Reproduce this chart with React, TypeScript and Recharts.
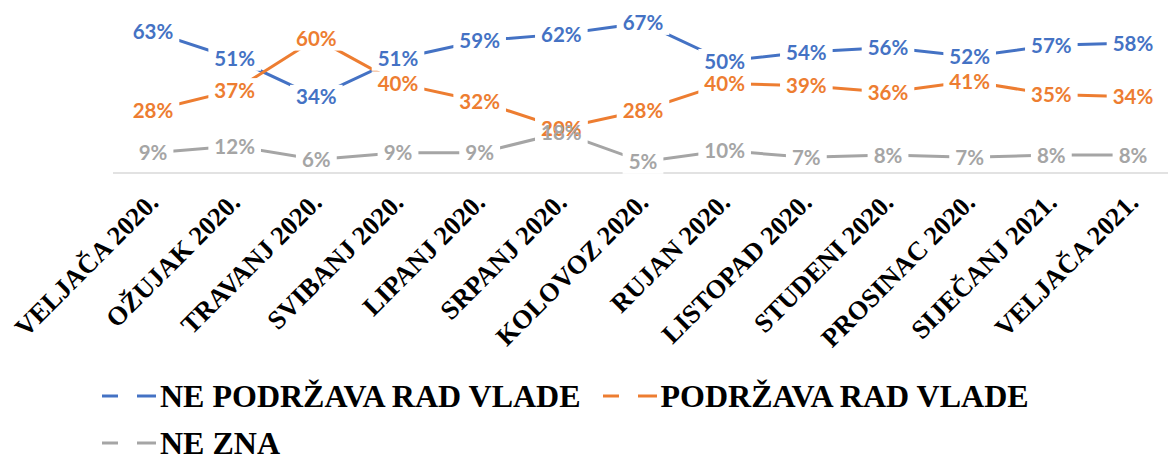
import React from 'react';
import { LineChart, Line, XAxis, YAxis, LabelList, Legend } from 'recharts';

const categories = [
  'VELJAČA 2020.', 'OŽUJAK 2020.', 'TRAVANJ 2020.', 'SVIBANJ 2020.', 'LIPANJ 2020.',
  'SRPANJ 2020.', 'KOLOVOZ 2020.', 'RUJAN 2020.', 'LISTOPAD 2020.', 'STUDENI 2020.',
  'PROSINAC 2020.', 'SIJEČANJ 2021.', 'VELJAČA 2021.',
];
const nePodrzava = [63, 51, 34, 51, 59, 62, 67, 50, 54, 56, 52, 57, 58];
const podrzava = [28, 37, 60, 40, 32, 20, 28, 40, 39, 36, 41, 35, 34];
const neZna = [9, 12, 6, 9, 9, 18, 5, 10, 7, 8, 7, 8, 8];
const seriesNames = ['NE PODRŽAVA RAD VLADE', 'PODRŽAVA RAD VLADE', 'NE ZNA'];
const seriesKeys = ['nePodrzava', 'podrzava', 'neZna'];
const colors = ['#4472C4', '#ED7D31', '#A5A5A5'];

const data = categories.map((c, i) => ({
  name: c,
  nePodrzava: nePodrzava[i],
  podrzava: podrzava[i],
  neZna: neZna[i],
}));

const labelFont = { fontFamily: 'Lato, Carlito, Calibri, sans-serif', fontWeight: 700, fontSize: 20.5 };
const serifFont = "'Liberation Serif', 'Times New Roman', serif";

const textWidth = (t: string) => {
  let w = 0;
  for (const ch of t) w += ch === '%' ? 17 : 11.8;
  return w;
};

const getXY = (p: any) => {
  const x = p.x ?? p.viewBox?.x;
  const y = p.y ?? p.viewBox?.y;
  return { x, y };
};

const RectLabel = (p: any) => {
  const { x, y } = getXY(p);
  if (x == null || y == null) return null;
  const t = `${p.value}%`;
  const w = textWidth(t) + 12;
  return <rect x={x - w / 2} y={y - 12} width={w} height={24} fill="#ffffff" />;
};

const makeTextLabel = (color: string) => (p: any) => {
  const { x, y } = getXY(p);
  if (x == null || y == null) return null;
  return (
    <text x={x} y={y} dy={7.5} textAnchor="middle" fill={color} style={labelFont}>
      {`${p.value}%`}
    </text>
  );
};

const Tick = (p: any) => {
  const { x, y, payload } = p;
  const ax = x + 7;
  const ay = y + 31;
  return (
    <text
      x={ax}
      y={ay}
      transform={`rotate(-45 ${ax} ${ay})`}
      textAnchor="end"
      fill="#000000"
      style={{ fontFamily: serifFont, fontWeight: 700, fontSize: 26.5 }}
    >
      {payload.value}
    </text>
  );
};

const Key = ({ color }: { color: string }) => (
  <svg width={58} height={6} style={{ display: 'block', flex: 'none' }}>
    <line x1={0} y1={3} x2={16} y2={3} stroke={color} strokeWidth={3} />
    <line x1={35} y1={3} x2={54} y2={3} stroke={color} strokeWidth={3} />
  </svg>
);

const LegendContent = () => {
  const rowStyle = (h: number): React.CSSProperties => ({
    display: 'flex',
    alignItems: 'center',
    height: h,
    paddingLeft: 102,
  });
  const textStyle = (h: number): React.CSSProperties => ({
    fontFamily: serifFont,
    fontWeight: 700,
    fontSize: 32,
    lineHeight: `${h}px`,
    color: '#000',
    whiteSpace: 'nowrap',
  });
  return (
    <div style={{ width: 1168, height: 86 }}>
      <div style={rowStyle(50)}>
        <Key color={colors[0]} />
        <span style={textStyle(50)}>{seriesNames[0]}</span>
        <div style={{ width: 22 }} />
        <Key color={colors[1]} />
        <span style={textStyle(50)}>{seriesNames[1]}</span>
      </div>
      <div style={{ height: 8 }} />
      <div style={rowStyle(28)}>
        <Key color={colors[2]} />
        <span style={textStyle(28)}>{seriesNames[2]}</span>
      </div>
    </div>
  );
};

export default function App() {
  return (
    <div style={{ position: 'absolute', left: 0, top: 0, width: 1168, height: 460, background: '#ffffff' }}>
      <LineChart width={1168} height={460} data={data} margin={{ top: 5, right: 0, bottom: 0, left: 113 }}>
        <XAxis
          dataKey="name"
          height={287}
          padding={{ left: 40, right: 35 }}
          tickLine={false}
          tickSize={0}
          tickMargin={0}
          axisLine={{ stroke: '#D9D9D9', strokeWidth: 1.5 }}
          tick={<Tick />}
          interval={0}
        />
        <YAxis hide domain={[0, 75]} />
        <Legend
          layout="horizontal"
          verticalAlign="middle"
          align="center"
          wrapperStyle={{ top: 371, left: 0, width: 1168, height: 86 }}
          content={<LegendContent />}
        />
        {seriesKeys.map((k, i) => (
          <Line
            key={`line-${k}`}
            dataKey={k}
            name={seriesNames[i]}
            stroke={colors[i]}
            strokeWidth={3}
            dot={false}
            activeDot={false}
            isAnimationActive={false}
          />
        ))}
        {seriesKeys.map((k) => (
          <Line
            key={`rect-${k}`}
            dataKey={k}
            stroke="none"
            dot={false}
            activeDot={false}
            legendType="none"
            isAnimationActive={false}
          >
            <LabelList dataKey={k} content={<RectLabel />} />
          </Line>
        ))}
        {seriesKeys.map((k, i) => (
          <Line
            key={`text-${k}`}
            dataKey={k}
            stroke="none"
            dot={false}
            activeDot={false}
            legendType="none"
            isAnimationActive={false}
          >
            <LabelList dataKey={k} content={makeTextLabel(colors[i])} />
          </Line>
        ))}
      </LineChart>
    </div>
  );
}
